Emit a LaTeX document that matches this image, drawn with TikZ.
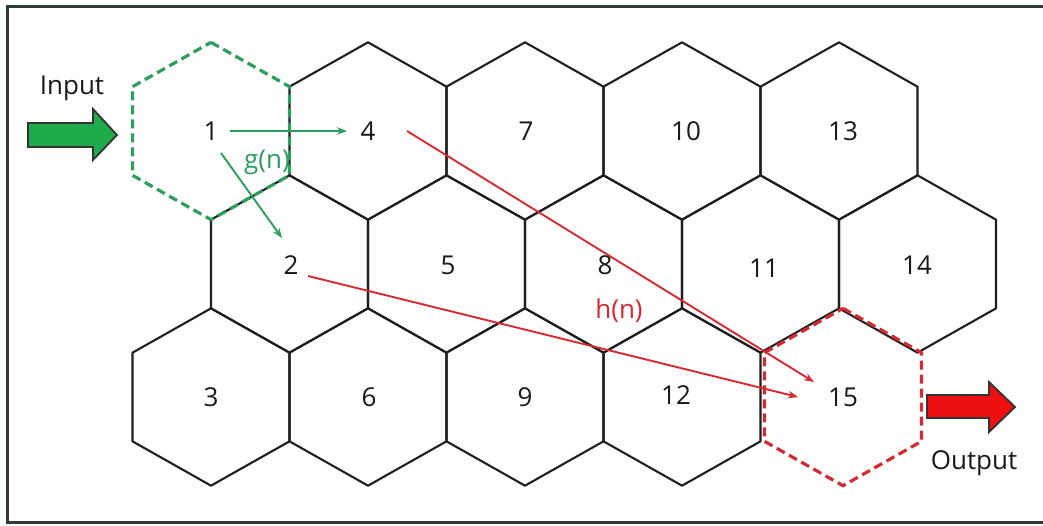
\documentclass[tikz,border=0pt]{standalone}
\usepackage{fontspec}
\setmainfont{Open Sans}
\usetikzlibrary{calc,arrows.meta}
\definecolor{hexgreen}{HTML}{2E9E5E}
\definecolor{hexred}{HTML}{D42A32}
\definecolor{ingreen}{HTML}{1FAA4B}
\definecolor{outred}{HTML}{EE1010}
\definecolor{framegray}{HTML}{2F3B3B}
\tikzset{
  hexpic/.pic={\path[pic actions] (0,-88.667) -- (78.5,-44.333) -- (78.5,44.333) -- (0,88.667) -- (-78.5,44.333) -- (-78.5,-44.333) -- cycle;},
  hexline/.style={line width=2.1pt, draw=black!88, line join=round},
  greendash/.style={line width=3.2pt, draw=hexgreen, dash pattern=on 9pt off 5pt},
  reddash/.style={line width=3.2pt, draw=hexred, dash pattern=on 9pt off 5pt},
  lbl/.style={font=\fontsize{26}{31}\selectfont, inner sep=2pt, text=black!90},
  garrow/.style={draw=hexgreen, line width=1.9pt, -{Stealth[length=10pt,width=7.5pt]}},
  rarrow/.style={draw=hexred, line width=1.9pt, -{Stealth[length=10pt,width=7.5pt]}},
  blockarrow/.style={line width=1.8pt, draw=black!80, line join=miter}
}
\begin{document}
\begin{tikzpicture}[x=1pt,y=-1pt]
\useasboundingbox (0,0) rectangle (1043,525);
\fill[white] (0,0) rectangle (1043,525);
\draw[framegray, line width=3pt] (1043,6) -- (7,6) -- (7,522) -- (1043,522);

% black honeycomb (all cells except 1 and 15)
\foreach \c/\r in {1/1,0/2,2/0,3/1,2/2,4/0,5/1,4/2,6/0,7/1,6/2,8/0,9/1}
  \pic[hexline] at ({211+78.5*\c},{131+133*\r}) {hexpic};

% highlighted cells
\pic[greendash] at (211,131) {hexpic};
\pic[reddash] at (843,397) {hexpic};

% cell labels
\foreach \n/\x/\y in {1/211/131,4/368/131,7/526/131,10/686/131,13/843/131,
                      2/291/265,5/448/265,8/605/265,11/764/268,14/917/265,
                      3/211/397,6/369/397,9/525/397,12/676/395,15/843/397}
  \node[lbl] (n\n) at (\x,\y) {\n};

% g(n) arrows
\draw[garrow, shorten <=19pt, shorten >=21pt] (n1.center) -- (n4.center);
\draw[garrow] ($(n1.center)+(10,22)$) -- ($(n2.center)+(-9,-27)$);
\node[lbl, text=hexgreen] (g) at (267,162) {g(n)};

% h(n) arrows
\draw[rarrow] ($(n4.center)+(39,0)$) -- ($(n15.center)+(-29,-15)$);
\draw[rarrow] ($(n2.center)+(17,11)$) -- ($(n15.center)+(-45,0)$);
\node[lbl, text=hexred] (h) at (619,311) {h(n)};

% input / output
\node[lbl] (inp) at (72,88) {Input};
\node[lbl] (outp) at (974,463) {Output};
\draw[blockarrow, fill=ingreen] (28,123) -- (93,123) -- (93,109) -- (117,135) -- (93,160) -- (93,147) -- (28,147) -- cycle;
\draw[blockarrow, fill=outred] (927,395) -- (989,395) -- (989,382) -- (1015,407) -- (989,432) -- (989,418) -- (927,418) -- cycle;
\end{tikzpicture}
\end{document}
